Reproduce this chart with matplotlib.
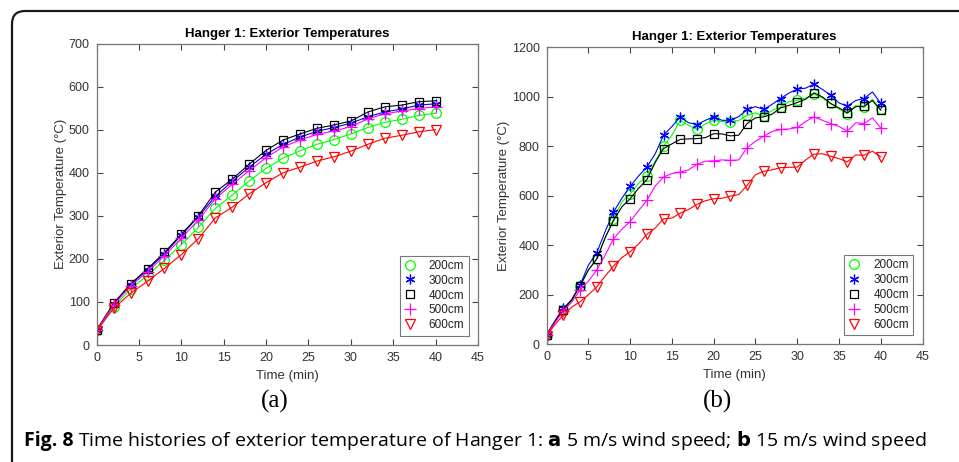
import numpy as np
import matplotlib
matplotlib.use("Agg")
import matplotlib.pyplot as plt
from matplotlib.patches import FancyBboxPatch

plt.rcParams['font.family'] = ['Liberation Sans', 'DejaVu Sans']

# sensor heights
labels = ['200cm', '300cm', '400cm', '500cm', '600cm']

# (a) 5 m/s wind, sampled every 2 min
time_a = list(range(0, 41, 2))
temp_a_200 = [35, 88, 130, 162, 197, 233, 273, 317, 348, 381, 410, 434, 451, 466, 477, 490, 505, 517, 524, 533, 538]
temp_a_300 = [35, 95, 140, 175, 212, 255, 298, 345, 380, 413, 443, 466, 483, 496, 505, 515, 530, 541, 548, 557, 560]
temp_a_400 = [35, 97, 142, 177, 215, 257, 300, 355, 385, 420, 452, 476, 490, 503, 511, 520, 541, 553, 557, 565, 567]
temp_a_500 = [35, 93, 137, 170, 207, 248, 290, 340, 373, 405, 435, 460, 476, 489, 497, 507, 525, 537, 543, 549, 553]
temp_a_600 = [33, 85, 120, 148, 178, 210, 247, 295, 320, 351, 377, 400, 413, 427, 437, 450, 466, 480, 487, 495, 500]

# (b) 15 m/s wind, sampled every 1 min
time_b = list(range(0, 41))
temp_b_200 = [38, 92, 140, 175, 235, 300, 344, 430, 505, 575, 608, 650, 680, 740, 800, 845, 905, 885, 868, 890,
              905, 900, 899, 905, 925, 935, 922, 945, 959, 980, 986, 995, 1011, 995, 973, 950, 932, 965, 957, 990, 949]
temp_b_300 = [39, 95, 145, 180, 239, 320, 370, 455, 534, 590, 638, 680, 716, 770, 845, 880, 919, 895, 888, 905,
              919, 905, 905, 920, 949, 960, 949, 970, 993, 1015, 1031, 1035, 1051, 1030, 1007, 975, 962, 985, 993, 1020, 973]
temp_b_400 = [38, 92, 140, 180, 236, 300, 345, 430, 500, 555, 588, 630, 665, 735, 791, 810, 828, 830, 831, 835,
              851, 850, 842, 845, 892, 915, 919, 930, 955, 965, 977, 990, 1016, 1000, 973, 955, 935, 960, 962, 985, 946]
temp_b_500 = [38, 88, 135, 170, 219, 255, 300, 360, 426, 465, 496, 540, 581, 640, 676, 690, 696, 705, 727, 740,
              741, 745, 743, 745, 795, 820, 841, 860, 868, 870, 876, 900, 919, 905, 892, 880, 861, 895, 892, 915, 874]
temp_b_600 = [35, 80, 118, 150, 172, 200, 232, 275, 316, 350, 374, 405, 444, 470, 507, 510, 530, 545, 565, 580,
              588, 590, 599, 605, 642, 685, 699, 705, 714, 715, 716, 745, 768, 770, 760, 750, 737, 765, 764, 780, 757]

colors = ['#00ff00', '#0000ff', '#000000', '#ff00ff', '#ff0000']
markers = ['o', (6, 2, 0), 's', '+', 'v']
msizes = [7, 7, 6, 8, 7]

fig = plt.figure(figsize=(9.59, 4.62), dpi=100)

# frame with a rounded top-left corner
bg = fig.add_axes([0, 0, 1, 1])
bg.set_xlim(0, 959)
bg.set_ylim(462, 0)
bg.axis('off')
bg.add_patch(FancyBboxPatch((12, 11), 1000, 500, boxstyle='round,pad=0,rounding_size=13',
                            facecolor='none', edgecolor='#1a1a1a', linewidth=1.6))


def draw_panel(ax, t, series, step, ylim, yticks):
    handles = []
    for vals, c, m, ms in zip(series, colors, markers, msizes):
        ax.plot(t, vals, color=c, linewidth=0.8)
        h, = ax.plot(t[::step], vals[::step], linestyle='none', marker=m, markersize=ms,
                     markerfacecolor='none', markeredgecolor=c, markeredgewidth=0.9)
        handles.append(h)
    ax.set_xlim(0, 45)
    ax.set_ylim(*ylim)
    ax.set_xticks(range(0, 46, 5))
    ax.set_yticks(yticks)
    ax.tick_params(direction='in', length=4, width=0.8, top=True, right=True,
                   labelsize=9, colors='#444444', labelcolor='#333333', pad=5)
    for s in ax.spines.values():
        s.set_color('#777777')
        s.set_linewidth(0.9)
    ax.set_title('Hanger 1: Exterior Temperatures', fontsize=9.5, fontweight='bold', pad=5)
    ax.set_xlabel('Time (min)', fontsize=9.5, color='#333333', labelpad=4)
    ax.set_ylabel('Exterior Temperature (°C)', fontsize=9.5, color='#333333', labelpad=1)
    leg = ax.legend(handles, labels, loc='lower right', fontsize=8.5, frameon=True, fancybox=False,
                    edgecolor='#555555', handlelength=1.0, handletextpad=1.1, labelspacing=0.25,
                    borderpad=0.35, borderaxespad=0.8)
    leg.get_frame().set_linewidth(0.8)
    for txt in leg.get_texts():
        txt.set_color('#222222')


ax1 = fig.add_axes([0.1008, 0.2532, 0.3976, 0.6526])
draw_panel(ax1, time_a, [temp_a_200, temp_a_300, temp_a_400, temp_a_500, temp_a_600], 1,
           (0, 700), range(0, 701, 100))

ax2 = fig.add_axes([0.570, 0.2548, 0.392, 0.6428])
draw_panel(ax2, time_b, [temp_b_200, temp_b_300, temp_b_400, temp_b_500, temp_b_600], 2,
           (0, 1200), range(0, 1201, 200))

fig.text(275 / 959, 1 - 401 / 462, '(a)', family='Liberation Serif', fontsize=18,
         ha='center', va='center')
fig.text(718 / 959, 1 - 401 / 462, '(b)', family='Liberation Serif', fontsize=18,
         ha='center', va='center')

cap_y = 1 - 441 / 462
t1 = fig.text(24 / 959, cap_y, 'Fig. 8', family='Open Sans', fontweight='bold', fontsize=14,
              va='center', ha='left')
fig.canvas.draw()
bb = t1.get_window_extent()
fig.text((bb.x1 + 5) / 959, cap_y,
         'Time histories of exterior temperature of Hanger 1: $\\bf{a}$ 5 m/s wind speed; $\\bf{b}$ 15 m/s wind speed',
         family='Open Sans', fontsize=14, va='center', ha='left')

fig.savefig('out.png', dpi=100)
